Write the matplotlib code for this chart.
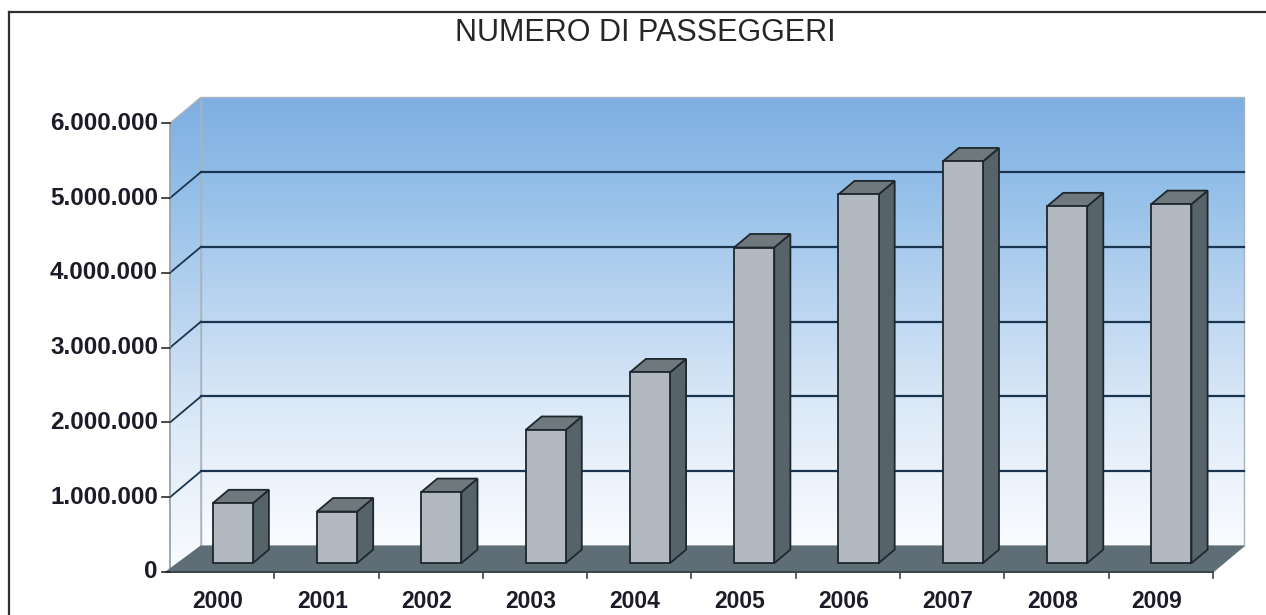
import numpy as np
import matplotlib
matplotlib.use('Agg')
import matplotlib.pyplot as plt
from matplotlib.patches import Polygon
from matplotlib.lines import Line2D

# dati: passeggeri annui
anni = ['2000', '2001', '2002', '2003', '2004', '2005', '2006', '2007', '2008', '2009']
passeggeri = [800000, 690000, 950000, 1780000, 2550000, 4220000, 4930000, 5370000, 4770000, 4800000]
tick_valori = [0, 1000000, 2000000, 3000000, 4000000, 5000000, 6000000]
tick_etichette = ['0', '1.000.000', '2.000.000', '3.000.000', '4.000.000', '5.000.000', '6.000.000']

# scala del piano frontale in pixel
PX_CAT = 104.3
PX_MIL = 74.8
X0, Y0 = 170, 572
W, H = 1266, 615

fig = plt.figure(figsize=(W / 100, H / 100), dpi=100)
ax = fig.add_axes([0, 0, 1, 1])
ax.set_xlim(-0.5 - X0 / PX_CAT, -0.5 + (W - X0) / PX_CAT)
ax.set_ylim(-(H - Y0) / PX_MIL * 1e6, Y0 / PX_MIL * 1e6)
ax.axis('off')

# profondità della scena (pareti) e delle colonne
DX = 31 / PX_CAT
DY = 26 / PX_MIL * 1e6
n = len(anni)
xmin, xmax = -0.5, n - 0.5
ymax = tick_valori[-1]


def sfumatura(stops):
    t = np.linspace(0, 1, 256)
    pos = [s[0] for s in stops]
    rgb = np.array([[int(c[i:i + 2], 16) / 255 for i in (1, 3, 5)] for _, c in stops])
    img = np.stack([np.interp(t, pos, rgb[:, k]) for k in range(3)], axis=1)
    return img[:, None, :]


grad = sfumatura([(0, '#7eafe2'), (0.2, '#93bfe8'), (0.45, '#b9d4f0'),
                  (0.7, '#ddeaf8'), (1, '#fafcff')])

# parete di fondo
ax.imshow(grad, extent=(xmin + DX, xmax + DX, DY, ymax + DY), aspect='auto', zorder=1)
ax.add_patch(Polygon([(xmin + DX, DY), (xmax + DX, DY), (xmax + DX, ymax + DY), (xmin + DX, ymax + DY)],
                     closed=True, fill=False, edgecolor='#a9b3bd', linewidth=1.0, zorder=2))

# parete laterale
lato = Polygon([(xmin, 0), (xmin + DX, DY), (xmin + DX, ymax + DY), (xmin, ymax)], closed=True,
               facecolor='none', edgecolor='#a9b3bd', linewidth=1.0, zorder=2)
ax.add_patch(lato)
img = ax.imshow(grad, extent=(xmin, xmin + DX, 0, ymax + DY), aspect='auto', zorder=1)
img.set_clip_path(lato)

# griglia
for v in tick_valori[1:-1]:
    ax.plot([xmin + DX, xmax + DX], [v + DY, v + DY], color='#1b3450', linewidth=1.6, zorder=2)
    ax.plot([xmin, xmin + DX], [v, v + DY], color='#1b3450', linewidth=1.3, zorder=2)

# pavimento
ax.add_patch(Polygon([(xmin - 0.04, 0), (xmax, 0), (xmax + DX, DY), (xmin + DX, DY)], closed=True,
                     facecolor='#5f6e76', edgecolor='#5f6e76', linewidth=0.8, zorder=3))
ax.plot([xmin - 0.04, xmax], [0, 0], color='#3a454c', linewidth=1.4, zorder=3)
ax.plot([xmin, xmin], [0, ymax], color='#9aa4ae', linewidth=1.2, zorder=2)

# tacche assi
tick_len = 6 / PX_MIL * 1e6
for k in range(1, n + 1):
    ax.plot([xmin + k, xmin + k], [0, -tick_len], color='#3a454c', linewidth=1.2, zorder=3)
for v, lab in zip(tick_valori, tick_etichette):
    ax.plot([xmin, xmin - 8 / PX_CAT], [v, v], color='#2a2a2a', linewidth=1.2, zorder=3)
    ax.text(xmin - 12 / PX_CAT, v, lab, ha='right', va='center', fontsize=17.5,
            fontweight='bold', family='Liberation Sans', color='#1c1c28')

# colonne
f0, f1 = 0.34, 0.86
larg = 0.385
d = f1 - f0
xs = np.arange(n)
ax.bar(xs + f0 * DX, passeggeri, width=larg, bottom=f0 * DY, color='#b3b9c1',
       edgecolor='#1e272d', linewidth=1.3, zorder=6)
for x, v in zip(xs, passeggeri):
    xl = x - larg / 2 + f0 * DX
    xr = xl + larg
    yb = f0 * DY
    yt = yb + v
    fianco = [(xr, yb), (xr + d * DX, yb + d * DY), (xr + d * DX, yt + d * DY), (xr, yt)]
    cima = [(xl, yt), (xr, yt), (xr + d * DX, yt + d * DY), (xl + d * DX, yt + d * DY)]
    ax.add_patch(Polygon(fianco, closed=True, facecolor='#56636b', edgecolor='#1e272d',
                         linewidth=1.3, zorder=5))
    ax.add_patch(Polygon(cima, closed=True, facecolor='#6f787d', edgecolor='#1e272d',
                         linewidth=1.3, zorder=5))

# etichette anni
y_lab = -(601 - Y0) / PX_MIL * 1e6
for x, a in zip(xs, anni):
    ax.text(x - 0.04, y_lab, a, ha='center', va='center', fontsize=16.5,
            fontweight='bold', family='Liberation Sans', color='#1c1c28')

fig.text(0.51, 1 - 33 / H, 'NUMERO DI PASSEGGERI', ha='center', va='center',
         fontsize=22, family='Liberation Sans', color='#262626')

# cornice
fig.add_artist(Line2D([9 / W, 1], [1 - 12 / H, 1 - 12 / H], color='#303030', linewidth=1.6))
fig.add_artist(Line2D([9 / W, 9 / W], [0, 1 - 12 / H], color='#303030', linewidth=1.6))

fig.savefig('out.png', dpi=100)
